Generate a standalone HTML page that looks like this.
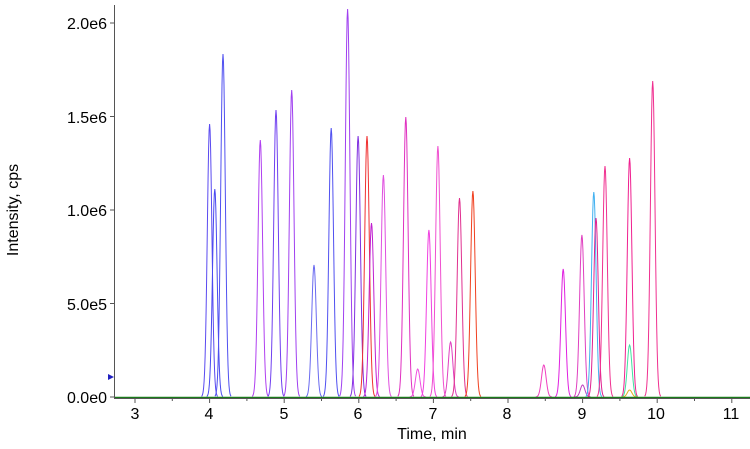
<!DOCTYPE html>
<html><head><meta charset="utf-8"><style>
body{margin:0;background:#fff;width:750px;height:444px;overflow:hidden;font-family:"Liberation Sans",sans-serif}
</style></head><body>
<svg id="s" width="750" height="444" xmlns="http://www.w3.org/2000/svg" font-family="Liberation Sans, sans-serif">
<g font-size="16" fill="#000" text-anchor="end">
<text x="107" y="403">0.0e0</text>
<text x="107" y="310">5.0e5</text>
<text x="107" y="216">1.0e6</text>
<text x="107" y="123">1.5e6</text>
<text x="107" y="29">2.0e6</text>
</g>
<g font-size="16" fill="#000" text-anchor="middle">
<text x="135" y="419">3</text><text x="209" y="419">4</text><text x="284" y="419">5</text>
<text x="358" y="419">6</text><text x="433" y="419">7</text><text x="507" y="419">8</text>
<text x="582" y="419">9</text><text x="656" y="419">10</text><text x="731" y="419">11</text>
<text x="432" y="439">Time, min</text>
</g>
<text transform="translate(18,210) rotate(-90)" font-size="16" text-anchor="middle">Intensity, cps</text>
<polygon points="108,374 114,377 108,380" fill="#2020c0"/>
<g id="p" fill="none" stroke-width="1"></g>
<line x1="114" y1="397.5" x2="750" y2="397.5" stroke="#1a7a1a" stroke-width="1.5"/>
<line x1="114.5" y1="5" x2="114.5" y2="398" stroke="#555"/>
<line x1="114" y1="398.5" x2="750" y2="398.5" stroke="#555"/>
<g id="t" stroke="#555"></g>
</svg>
<script>
var X=function(t){return 135+(t-3)*74.6};
var pk=[[4.00,124,"#5a4af0"],[4.07,189,"#4a4af0"],[4.18,54,"#5050f0"],[4.68,140,"#b040f0"],[4.89,110,"#7040f0"],
[5.10,90,"#a040f0"],[5.40,265,"#6a6af0"],[5.63,128,"#5050f0"],[5.85,9,"#a040f0"],[5.99,136,"#8030e0"],
[6.11,136,"#f03030"],[6.17,223,"#c020d0"],[6.33,175,"#e050e0"],[6.63,117,"#e030c0"],[6.79,369,"#f050e0"],
[6.94,230,"#f040e0"],[7.06,146,"#f050d0"],[7.23,342,"#e040c0"],[7.35,198,"#e03090"],[7.53,191,"#f04020"],
[8.48,365,"#f040c0"],[8.74,269,"#e020e0"],[8.99,235,"#e040c0"],[9.00,385,"#c040c0"],[9.15,192,"#40b0f0"],[9.18,218,"#e02090"],
[9.30,166,"#f03090"],[9.63,158,"#f02090"],[9.63,345,"#40e0a0"],[9.63,390,"#e0b020"],[9.94,81,"#f03090"]];
var g=document.getElementById('p'),h='';
pk.forEach(function(p){var c=X(p[0]),H=397-p[1],d='';
for(var i=-8;i<=8;i+=0.5){var y=397-H*Math.exp(-(i*i)/(2*2.3*2.3));d+=(i==-8?'M':'L')+(c+i).toFixed(1)+','+y.toFixed(1);}
h+='<path d="'+d+'" stroke="'+p[2]+'"/>';});
g.innerHTML=h;
var t='';for(var k=3;k<=11;k+=0.5){var x=X(k);t+='<line x1="'+x+'" y1="398" x2="'+x+'" y2="'+(k%1?401:403)+'"/>';}
for(var v=0;v<=4;v++){var y=397-v*93.5;t+='<line x1="110" y1="'+y+'" x2="114" y2="'+y+'"/>';}
document.getElementById('t').innerHTML=t;
</script>
</body></html>
